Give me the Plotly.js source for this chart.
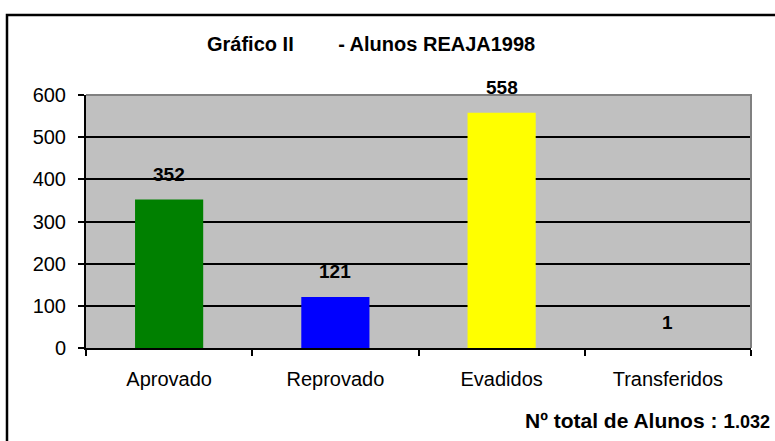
<!DOCTYPE html>
<html>
<head>
<meta charset="utf-8">
<script src="https://cdn.plot.ly/plotly-3.0.1.min.js"></script>
<style>html,body{margin:0;padding:0;background:#fff;}#chart{width:775px;height:441px;}</style>
</head>
<body>
<div id="chart"></div>
<script>
var categories = ["Aprovado", "Reprovado", "Evadidos", "Transferidos"];
var values = [352, 121, 558, 1];
var barColors = ["#008000", "#0000FF", "#FFFF00", "#C0C0C0"];
var yTicks = [0, 100, 200, 300, 400, 500, 600];
var titleText = "Gráfico II&nbsp;&nbsp;&nbsp;&nbsp;&nbsp;&nbsp;&nbsp;&nbsp;- Alunos REAJA1998";
var footerLabel = "Nº total de Alunos : ";
var footerTotalHead = "1";
var footerTotalTail = ".032";

var font = "Liberation Sans, Arial, sans-serif";

var trace = {
  type: "bar",
  x: categories,
  y: values,
  marker: {color: barColors, line: {width: 0}},
  hoverinfo: "none"
};

var annotations = categories.map(function (c, i) {
  return {
    x: c, y: values[i], xref: "x", yref: "y",
    text: "<b>" + values[i] + "</b>",
    showarrow: false, yanchor: "middle", yshift: 25,
    font: {family: font, size: 19, color: "#000"}
  };
});
annotations.push({
  xref: "paper", yref: "paper", x: 0.429, y: 1.2,
  text: "<b>" + titleText + "</b>", showarrow: false,
  xanchor: "center", yanchor: "middle",
  font: {family: font, size: 20, color: "#000"}
});
annotations.push({
  xref: "paper", yref: "paper", x: 0.657, y: -0.285,
  text: "<b>" + footerLabel + footerTotalHead +
        "<span style='font-size:18px'>" + footerTotalTail + "</span></b>",
  showarrow: false,
  xanchor: "left", yanchor: "middle",
  font: {family: font, size: 21, color: "#000"}
});

var layout = {
  width: 775, height: 441,
  margin: {l: 86, r: 24, t: 95, b: 93, pad: 0},
  paper_bgcolor: "#FFFFFF",
  plot_bgcolor: "#C0C0C0",
  showlegend: false,
  bargap: 0.59,
  xaxis: {
    type: "category",
    showline: true, linecolor: "#000", linewidth: 2,
    ticks: "outside", tickson: "boundaries", ticklen: 6, tickcolor: "#000", tickwidth: 2,
    ticklabelstandoff: 12,
    showgrid: false, zeroline: false,
    tickfont: {family: font, size: 20, color: "#000"}
  },
  yaxis: {
    range: [0, 600], tickvals: yTicks,
    showline: true, linecolor: "#000", linewidth: 2,
    ticks: "outside", ticklen: 6, tickcolor: "#000", tickwidth: 2,
    ticklabelstandoff: 8,
    showgrid: true, gridcolor: "#000", gridwidth: 2,
    zeroline: false,
    tickfont: {family: font, size: 20, color: "#000"}
  },
  shapes: [
    {type: "path", xref: "paper", yref: "paper",
     path: "M 0,1 L 1,1 L 1,0", line: {color: "#808080", width: 2}, layer: "above"},
    {type: "rect", xref: "paper", yref: "paper",
     x0: -0.1188, y0: -0.6, x1: 1.2, y1: 1.3162,
     line: {color: "#000", width: 2.5}, fillcolor: "rgba(0,0,0,0)", layer: "above"}
  ],
  annotations: annotations
};

Plotly.newPlot("chart", [trace], layout, {displayModeBar: false, staticPlot: true});
</script>
</body>
</html>
